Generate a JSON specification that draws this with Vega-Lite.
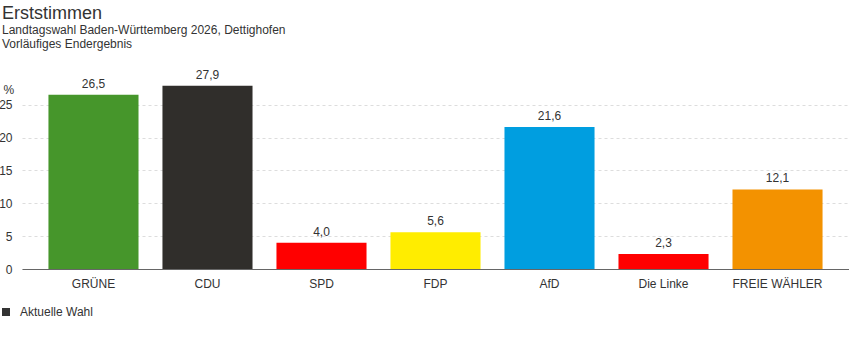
{
  "$schema": "https://vega.github.io/schema/vega-lite/v6.json",
  "width": 827,
  "height": 184,
  "autosize": {"type": "none"},
  "padding": {"left": 22, "top": 85, "right": 0, "bottom": 83},
  "background": "white",
  "title": {
    "text": "Erststimmen",
    "subtitle": ["Landtagswahl Baden-Württemberg 2026, Dettighofen", "Vorläufiges Endergebnis"],
    "anchor": "start",
    "frame": "group",
    "dx": -20,
    "offset": 19,
    "font": "Liberation Sans",
    "fontSize": 18,
    "fontWeight": "normal",
    "color": "#333333",
    "subtitleFont": "Liberation Sans",
    "subtitleFontSize": 12,
    "subtitleColor": "#333333",
    "subtitleLineHeight": 14,
    "subtitlePadding": 2
  },
  "config": {
    "view": {"stroke": null},
    "locale": {"number": {"decimal": ",", "thousands": ".", "grouping": [3], "currency": ["", " €"]}},
    "font": "Liberation Sans"
  },
  "data": {
    "values": [
      {"Partei": "GRÜNE", "Anteil": 26.5, "Farbe": "#46962b", "Wahl": "Aktuelle Wahl"},
      {"Partei": "CDU", "Anteil": 27.9, "Farbe": "#302e2b", "Wahl": "Aktuelle Wahl"},
      {"Partei": "SPD", "Anteil": 4.0, "Farbe": "#ff0000", "Wahl": "Aktuelle Wahl"},
      {"Partei": "FDP", "Anteil": 5.6, "Farbe": "#ffed00", "Wahl": "Aktuelle Wahl"},
      {"Partei": "AfD", "Anteil": 21.6, "Farbe": "#009ee0", "Wahl": "Aktuelle Wahl"},
      {"Partei": "Die Linke", "Anteil": 2.3, "Farbe": "#ff0000", "Wahl": "Aktuelle Wahl"},
      {"Partei": "FREIE WÄHLER", "Anteil": 12.1, "Farbe": "#f39200", "Wahl": "Aktuelle Wahl"}
    ]
  },
  "encoding": {
    "x": {
      "field": "Partei",
      "type": "nominal",
      "sort": null,
      "scale": {"paddingInner": 0.21, "paddingOuter": 0.232},
      "axis": {
        "title": null,
        "labelAngle": 0,
        "labelFontSize": 12,
        "labelColor": "#333333",
        "labelPadding": 9,
        "ticks": false,
        "domainColor": "#666666",
        "domainWidth": 1
      }
    },
    "y": {
      "field": "Anteil",
      "type": "quantitative",
      "scale": {"domain": [0, 28], "nice": false},
      "axis": {
        "title": "%",
        "titleAngle": 0,
        "titleAlign": "left",
        "titleBaseline": "middle",
        "titleX": -19,
        "titleY": 4,
        "titleFontSize": 12,
        "titleFontWeight": "normal",
        "titleColor": "#333333",
        "values": [0, 5, 10, 15, 20, 25],
        "labelFontSize": 12,
        "labelColor": "#333333",
        "labelPadding": 10,
        "ticks": false,
        "domain": false,
        "grid": true,
        "gridColor": "#dddddd",
        "gridDash": [3, 3],
        "gridWidth": 1
      }
    }
  },
  "layer": [
    {
      "mark": {"type": "bar"},
      "encoding": {
        "fill": {"field": "Farbe", "type": "nominal", "scale": null}
      }
    },
    {
      "mark": {"type": "text", "baseline": "bottom", "dy": -4, "fontSize": 12},
      "encoding": {
        "text": {"field": "Anteil", "type": "quantitative", "format": ".1f"},
        "color": {
          "field": "Wahl",
          "type": "nominal",
          "scale": {"range": ["#333333"]},
          "legend": {
            "title": null,
            "orient": "none",
            "legendX": -22,
            "legendY": 221,
            "padding": 0,
            "symbolType": "square",
            "symbolSize": 64,
            "symbolFillColor": "#404040",
            "symbolStrokeWidth": 0,
            "labelFontSize": 12,
            "labelColor": "#333333",
            "labelOffset": 8
          }
        }
      }
    }
  ]
}
